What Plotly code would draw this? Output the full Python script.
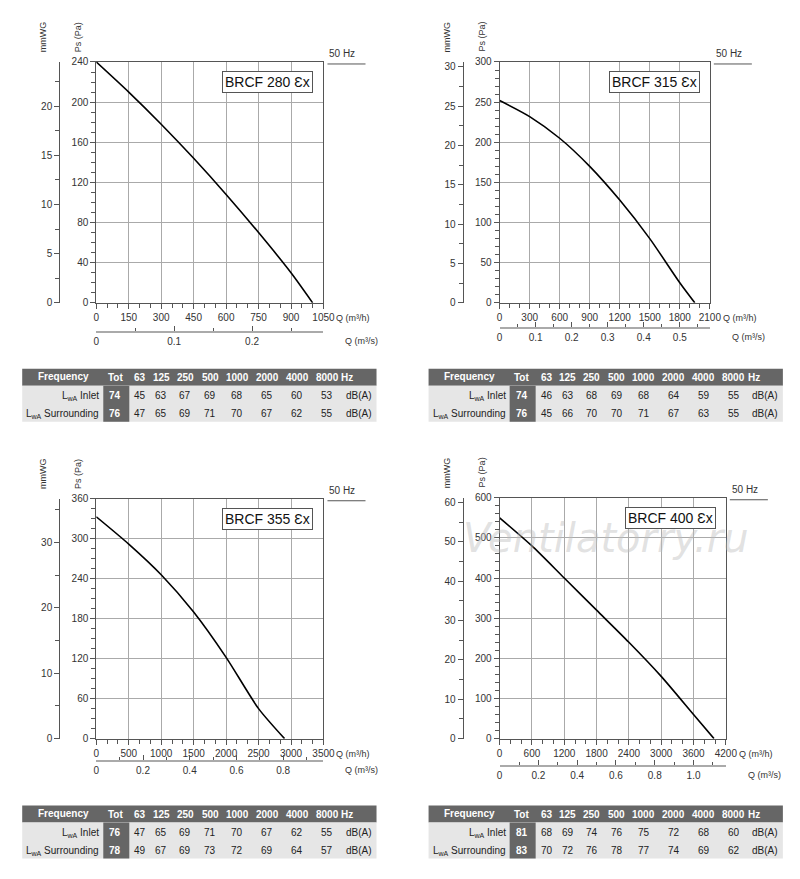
import plotly.graph_objects as go

W, H = 784, 863
# ---------------- data ----------------
names = ["BRCF 280 Ɛx", "BRCF 315 Ɛx", "BRCF 355 Ɛx", "BRCF 400 Ɛx"]
q1 = [0, 150, 300, 450, 600, 750, 900, 1000]
p1 = [240, 210, 178, 144, 108, 70, 30, 0]
q2 = [0, 300, 600, 900, 1200, 1500, 1800, 1950]
p2 = [252, 232, 205, 170, 128, 80, 25, 0]
q3 = [0, 500, 1000, 1500, 2000, 2500, 2900]
p3 = [333, 292, 246, 190, 122, 45, 0]
q4 = [0, 600, 1200, 1800, 2400, 3000, 3600, 3980]
p4 = [550, 480, 400, 320, 240, 155, 60, 0]
qmax = [1050, 2100, 3500, 4200]
pmax = [240, 300, 360, 600]
qdt = [150, 300, 500, 600]
pdt = [40, 50, 60, 100]
pminor = [10, 10, 15, 20]
mdt = [5, 5, 10, 10]
sec_vals = [[0, 0.1, 0.2], [0, 0.1, 0.2, 0.3, 0.4, 0.5], [0, 0.2, 0.4, 0.6, 0.8], [0, 0.2, 0.4, 0.6, 0.8, 1.0]]
sec_text = [["0", "0.1", "0.2"], ["0", "0.1", "0.2", "0.3", "0.4", "0.5"], ["0", "0.2", "0.4", "0.6", "0.8"],
            ["0", "0.2", "0.4", "0.6", "0.8", "1.0"]]
sec_minor = [0.05, 0.05, 0.1, 0.1]
freq_hdr = ["Tot", "63", "125", "250", "500", "1000", "2000", "4000", "8000", "Hz"]
inlet = [[74, 45, 63, 67, 69, 68, 65, 60, 53], [74, 46, 63, 68, 69, 68, 64, 59, 55],
         [76, 47, 65, 69, 71, 70, 67, 62, 55], [81, 68, 69, 74, 76, 75, 72, 68, 60]]
surr = [[76, 47, 65, 69, 71, 70, 67, 62, 55], [76, 45, 66, 70, 70, 71, 67, 63, 55],
        [78, 49, 67, 69, 73, 72, 69, 64, 57], [83, 70, 72, 76, 78, 77, 74, 69, 62]]
Q = [q1, q2, q3, q4]
P = [p1, p2, p3, p4]

# --------------- layout (reference pixels) ---------------
box = [(96, 323, 61, 302), (499, 709, 61, 302), (96, 323, 498, 738), (499, 725, 497, 738)]
sec_y = [331, 327, 760, 765]
mm_x = [59, 462, 59, 462]
tab_off = [(0, 0), (406, 0), (0, 437), (406, 437)]

def px(x): return ((x - 10.8) / 0.98) / W
def py(y): return 1 - ((y - 13) / 0.9866) / H

def txt(x, y, text, size=10, color="#333", xa="center", ya="middle", **kw):
    d = dict(x=px(x), y=py(y), text=text, showarrow=False, xref="paper", yref="paper",
             xanchor=xa, yanchor=ya, font=dict(size=size, color=color))
    d.update(kw)
    return d

fig = go.Figure()
lay = dict(width=W, height=H, margin=dict(l=0, r=0, t=0, b=0), plot_bgcolor="white",
           paper_bgcolor="white", showlegend=False,
           font=dict(family="Liberation Sans, Arial", size=10, color="#333"))
shapes, annos = [], []
AX = dict(linecolor="#555", linewidth=1, tickcolor="#555", ticklen=5, tickfont=dict(size=10, color="#333"))

for i in range(4):
    L, R, T, B = box[i]
    n = i + 1
    xa, ya = f"x{n}", f"y{n}"
    xs, ys = f"x{n+4}", f"y{n+4}"
    fig.add_trace(go.Scatter(x=Q[i], y=P[i], mode="lines", line=dict(color="black", width=1.6, shape="spline", smoothing=0.7),
                             xaxis=xa, yaxis=ya, hoverinfo="skip"))
    fig.add_trace(go.Scatter(x=[0], y=[0], mode="markers", marker=dict(opacity=0), xaxis=xs, yaxis=ya, hoverinfo="skip"))
    fig.add_trace(go.Scatter(x=[0], y=[0], mode="markers", marker=dict(opacity=0), xaxis=xa, yaxis=ys, hoverinfo="skip"))
    sfx = "" if n == 1 else str(n)
    lay["xaxis" + sfx] = dict(AX, domain=[px(L), px(R)], anchor=ya, range=[0, qmax[i]], dtick=qdt[i],
                              showline=True, mirror=True, showgrid=True, gridcolor="#aaa", zeroline=False,
                              ticks="outside", minor=dict(dtick=qdt[i] / 3, ticks="outside", ticklen=4, tickcolor="#555", showgrid=False))
    lay["yaxis" + sfx] = dict(AX, domain=[py(B), py(T)], anchor=xa, range=[0, pmax[i]], dtick=pdt[i],
                              showline=True, mirror=True, showgrid=True, gridcolor="#aaa", zeroline=False,
                              ticks="outside", minor=dict(dtick=pminor[i], ticks="outside", ticklen=4, tickcolor="#555", showgrid=False))
    lay[f"xaxis{n+4}"] = dict(AX, overlaying=xa, anchor="free", position=py(sec_y[i]), side="bottom",
                              range=[0, qmax[i] / 3600], tickvals=sec_vals[i], ticktext=sec_text[i],
                              showline=True, showgrid=False, zeroline=False,
                              ticks="inside", linecolor="#aaa", linewidth=2,
                              minor=dict(dtick=sec_minor[i], ticks="inside", ticklen=3, tickcolor="#555"))
    lay[f"yaxis{n+4}"] = dict(AX, overlaying=ya, anchor="free", position=px(mm_x[i]), side="left",
                              range=[0, pmax[i] / 9.80665], dtick=mdt[i], showline=True, showgrid=False, zeroline=False,
                              ticks="outside", minor=dict(dtick=mdt[i] / 2, ticks="outside", ticklen=4, tickcolor="#555"))
    # axis titles
    annos.append(txt(L - 18, T - 25, "Ps (Pa)", 9, textangle=-90))
    annos.append(txt(mm_x[i] - 16, T - 25, "mmWG", 9, textangle=-90))
    annos.append(txt(R + 11, B + 15, "Q (m³/h)", 9, xa="left"))
    annos.append(txt(R + 20, sec_y[i] + 9, "Q (m³/s)", 9, xa="left"))
    annos.append(txt(R + 4, T - 1, "50 Hz", 10, xa="left", ya="bottom"))
    shapes.append(dict(type="line", xref="paper", yref="paper", x0=px(R + 4), x1=px(R + 42), y0=py(T + 2), y1=py(T + 2), line=dict(color="#555", width=1)))
    annos.append(txt(R - 10, T + 20, names[i], 14, "#111", xa="right", bordercolor="#555", borderwidth=1, bgcolor="white", borderpad=2))
    # table
    ox, oy = tab_off[i]
    shapes.append(dict(type="rect", xref="paper", yref="paper", x0=px(22 + ox), x1=px(376 + ox), y0=py(368 + oy), y1=py(385 + oy), fillcolor="#666", line=dict(width=0), layer="below"))
    shapes.append(dict(type="rect", xref="paper", yref="paper", x0=px(22 + ox), x1=px(376 + ox), y0=py(385 + oy), y1=py(421 + oy), fillcolor="#e6e6e6", line=dict(width=0), layer="below"))
    shapes.append(dict(type="rect", xref="paper", yref="paper", x0=px(103 + ox), x1=px(129 + ox), y0=py(385 + oy), y1=py(421 + oy), fillcolor="#666", line=dict(width=0), layer="below"))
    colx = [115, 140, 161, 185, 210, 237, 267, 297, 327, 347]
    annos.append(txt(63 + ox, 376 + oy, "<b>Frequency</b>", 10, "white"))
    for c, t in zip(colx, freq_hdr):
        annos.append(txt(c + ox, 377 + oy, f"<b>{t}</b>", 10, "white"))
    for r, (lab, vals) in enumerate([("L<sub>wA</sub> Inlet", inlet[i]), ("L<sub>wA</sub> Surrounding", surr[i])]):
        yy = 395 + 18 * r + oy
        annos.append(txt(101 + ox, yy, lab, 10, "#222", xa="right"))
        for j, v in enumerate(vals):
            annos.append(txt(colx[j] + ox, yy, (f"<b>{v}</b>" if j == 0 else str(v)), 10, "white" if j == 0 else "#222"))
        annos.append(txt(358 + ox, yy, "dB(A)", 10, "#222"))

wm = txt(605, 537, "<i>Ventilatorry.ru</i>", 40, "rgba(190,190,190,0.45)")
wm["font"]["family"] = "DejaVu Sans"
annos.append(wm)
lay["shapes"] = shapes
lay["annotations"] = annos
fig.update_layout(**lay)
fig.write_html("out.html")
